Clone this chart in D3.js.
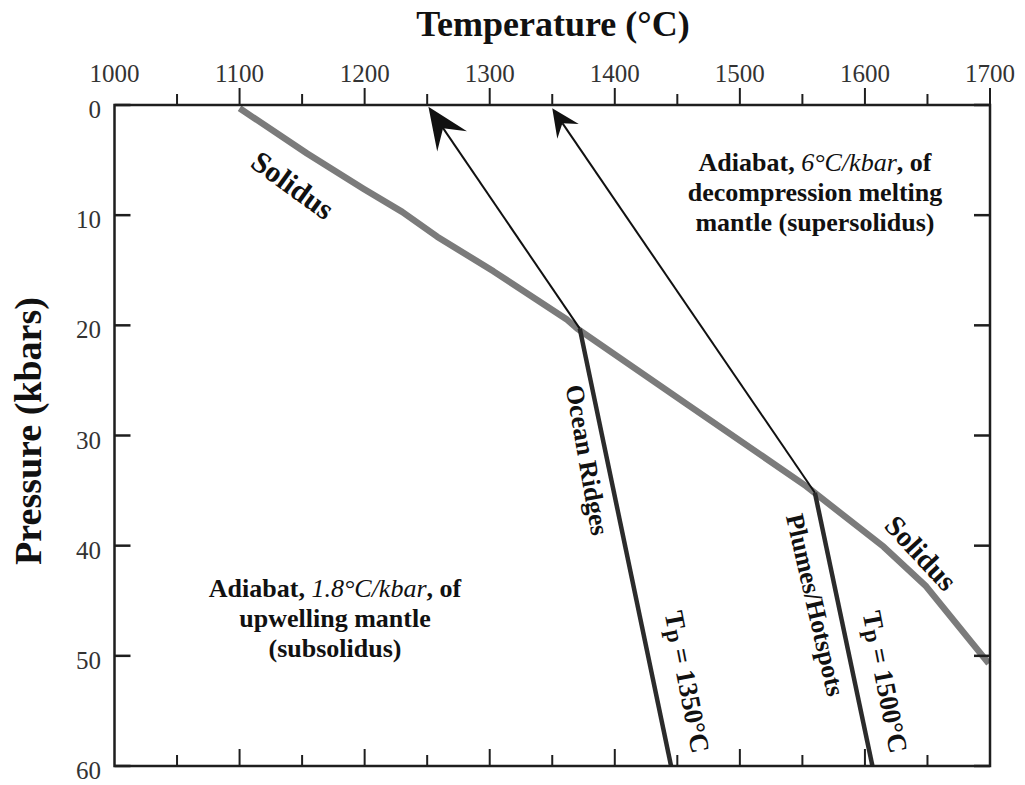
<!DOCTYPE html>
<html>
<head>
<meta charset="utf-8">
<script src="https://cdn.jsdelivr.net/npm/d3@7"></script>
<style>
  html, body { margin: 0; padding: 0; background: #fff; }
  svg { display: block; font-family: "Liberation Serif", "Times New Roman", serif; }
</style>
</head>
<body>
<svg id="chart" width="1025" height="785"></svg>
<script>
// ---- Data ----
const xDomain = [1000, 1700];
const yDomain = [0, 60];
const xMajorTicks = [1000, 1100, 1200, 1300, 1400, 1500, 1600, 1700];
const xMinorTicks = [1050, 1150, 1250, 1350, 1450, 1550, 1650];
const yTicks = [0, 10, 20, 30, 40, 50, 60];

// Solidus (temperature °C, pressure kbar)
const solidusT = [1100, 1154, 1199, 1230, 1258, 1303, 1362, 1370, 1457, 1553, 1615, 1649, 1699];
const solidusP = [0.3, 4.4, 7.6, 9.7, 11.95, 15.1, 19.5, 20.3, 27.1, 34.6, 40.1, 43.7, 50.7];

// Ocean ridges adiabat (Tp = 1350°C)
const ridgeSubT = [1445, 1372];
const ridgeSubP = [60, 20.3];
const ridgeSupT = [1372, 1251];
const ridgeSupP = [20.3, 0.15];

// Plumes / hotspots adiabat (Tp = 1500°C)
const plumeSubT = [1606, 1560];
const plumeSubP = [60, 35.2];
const plumeSupT = [1560, 1350];
const plumeSupP = [35.2, 0.3];

// ---- Layout ----
const svg = d3.select("#chart");
const x = d3.scaleLinear().domain(xDomain).range([114.5, 990]);
const y = d3.scaleLinear().domain(yDomain).range([105, 766]);
const axisColor = "#1e1e1e";

const zip = (a, b) => a.map((v, i) => [v, b[i]]);
const line = d3.line().x(d => x(d[0])).y(d => y(d[1]));

// Solidus
svg.append("path")
  .attr("d", line(zip(solidusT, solidusP)))
  .attr("fill", "none").attr("stroke", "#7b7b7b").attr("stroke-width", 6.5)
  .attr("stroke-linejoin", "round");

// Subsolidus adiabats (thick dark)
[[ridgeSubT, ridgeSubP], [plumeSubT, plumeSubP]].forEach(([t, p]) => {
  svg.append("path")
    .attr("d", line(zip(t, p)))
    .attr("fill", "none").attr("stroke", "#2b2b2b").attr("stroke-width", 4.5);
});

// Supersolidus adiabats (thin with arrowheads)
function arrow(t, p, len, half, notch) {
  const x0 = x(t[0]), y0 = y(p[0]), x1 = x(t[1]), y1 = y(p[1]);
  const dx = x0 - x1, dy = y0 - y1, L = Math.hypot(dx, dy);
  const ux = dx / L, uy = dy / L;       // from tip toward start
  const px = -uy, py = ux;
  const bx = x1 + ux * len, by = y1 + uy * len;
  const nx = x1 + ux * notch, ny = y1 + uy * notch;
  svg.append("line")
    .attr("x1", x0).attr("y1", y0).attr("x2", nx).attr("y2", ny)
    .attr("stroke", "#111").attr("stroke-width", 2);
  const pts = [[x1, y1], [bx + px * half, by + py * half], [nx, ny], [bx - px * half, by - py * half]];
  svg.append("path").attr("d", "M" + pts.map(q => q.join(",")).join("L") + "Z")
    .attr("fill", "#111");
}
arrow(ridgeSupT, ridgeSupP, 42, 18, 26);
arrow(plumeSupT, plumeSupP, 28, 13, 18);

// ---- Axes ----
const g = svg.append("g");
// Frame
g.append("rect")
  .attr("x", x(1000)).attr("y", y(0))
  .attr("width", x(1700) - x(1000)).attr("height", y(60) - y(0))
  .attr("fill", "none").attr("stroke", axisColor).attr("stroke-width", 2.5);

// Top ticks (outward)
xMajorTicks.filter(v => v > 1000).forEach(v => {
  g.append("line").attr("x1", x(v)).attr("x2", x(v)).attr("y1", y(0)).attr("y2", y(0) - 17)
    .attr("stroke", axisColor).attr("stroke-width", 2);
});
xMinorTicks.forEach(v => {
  g.append("line").attr("x1", x(v)).attr("x2", x(v)).attr("y1", y(0)).attr("y2", y(0) - 11)
    .attr("stroke", axisColor).attr("stroke-width", 2);
});
// Bottom ticks (inward)
xMajorTicks.filter(v => v > 1000 && v < 1700).forEach(v => {
  g.append("line").attr("x1", x(v)).attr("x2", x(v)).attr("y1", y(60)).attr("y2", y(60) - 17)
    .attr("stroke", axisColor).attr("stroke-width", 2);
});
xMinorTicks.forEach(v => {
  g.append("line").attr("x1", x(v)).attr("x2", x(v)).attr("y1", y(60)).attr("y2", y(60) - 11)
    .attr("stroke", axisColor).attr("stroke-width", 2);
});
// Left and right ticks (inward)
yTicks.forEach(v => {
  g.append("line").attr("x1", x(1000)).attr("x2", x(1000) + 16).attr("y1", y(v)).attr("y2", y(v))
    .attr("stroke", axisColor).attr("stroke-width", 2.5);
  g.append("line").attr("x1", x(1700)).attr("x2", x(1700) - 16).attr("y1", y(v)).attr("y2", y(v))
    .attr("stroke", axisColor).attr("stroke-width", 2.5);
});

// Tick labels
g.selectAll(".xlab").data(xMajorTicks).enter().append("text")
  .attr("x", d => x(d)).attr("y", y(0) - 23)
  .attr("text-anchor", "middle").attr("font-size", 25).attr("fill", "#333")
  .text(d => d);
g.selectAll(".ylab").data(yTicks).enter().append("text")
  .attr("x", 101).attr("y", d => y(d) + 13)
  .attr("text-anchor", "end").attr("font-size", 25).attr("fill", "#333")
  .text(d => d);

// Axis titles
svg.append("text").attr("x", 553).attr("y", 36)
  .attr("text-anchor", "middle").attr("font-size", 36).attr("font-weight", "bold").attr("fill", "#111")
  .text("Temperature (°C)");
svg.append("text").attr("transform", "translate(41,431) rotate(-90)")
  .attr("text-anchor", "middle").attr("font-size", 38).attr("font-weight", "bold").attr("fill", "#111")
  .text("Pressure (kbars)");

// ---- Annotations ----
function label(cx, cy, angle, txt, size) {
  svg.append("text")
    .attr("transform", `translate(${cx},${cy}) rotate(${angle})`)
    .attr("text-anchor", "middle").attr("dominant-baseline", "central")
    .attr("font-size", size).attr("font-weight", "bold").attr("fill", "#111")
    .text(txt);
}
label(293, 185, 36, "Solidus", 30);
label(921, 553, 47, "Solidus", 29);
label(587, 460, 80, "Ocean Ridges", 26);
label(815, 605, 77, "Plumes/Hotspots", 26);

function tpLabel(cx, cy, angle, val) {
  const t = svg.append("text")
    .attr("transform", `translate(${cx},${cy}) rotate(${angle})`)
    .attr("text-anchor", "middle").attr("dominant-baseline", "central")
    .attr("font-size", 27).attr("font-weight", "bold").attr("fill", "#111");
  t.append("tspan").text("T");
  t.append("tspan").attr("font-size", 23).attr("dy", 3).text("p");
  t.append("tspan").attr("dy", -3).text(" = " + val + "°C");
}
tpLabel(687, 682, 79, 1350);
tpLabel(885, 682, 79, 1500);

function block(cx, baselines, lines) {
  lines.forEach((parts, i) => {
    const t = svg.append("text").attr("x", cx).attr("y", baselines[i])
      .attr("text-anchor", "middle").attr("font-size", 26).attr("fill", "#111");
    parts.forEach(([s, it]) => {
      t.append("tspan")
        .attr("font-weight", it ? "normal" : "bold")
        .attr("font-style", it ? "italic" : "normal")
        .text(s);
    });
  });
}
block(815, [171, 201, 231], [
  [["Adiabat, ", false], ["6°C/kbar", true], [", of", false]],
  [["decompression melting", false]],
  [["mantle (supersolidus)", false]]
]);
block(335, [597, 627, 657], [
  [["Adiabat, ", false], ["1.8°C/kbar", true], [", of", false]],
  [["upwelling mantle", false]],
  [["(subsolidus)", false]]
]);
</script>
</body>
</html>
